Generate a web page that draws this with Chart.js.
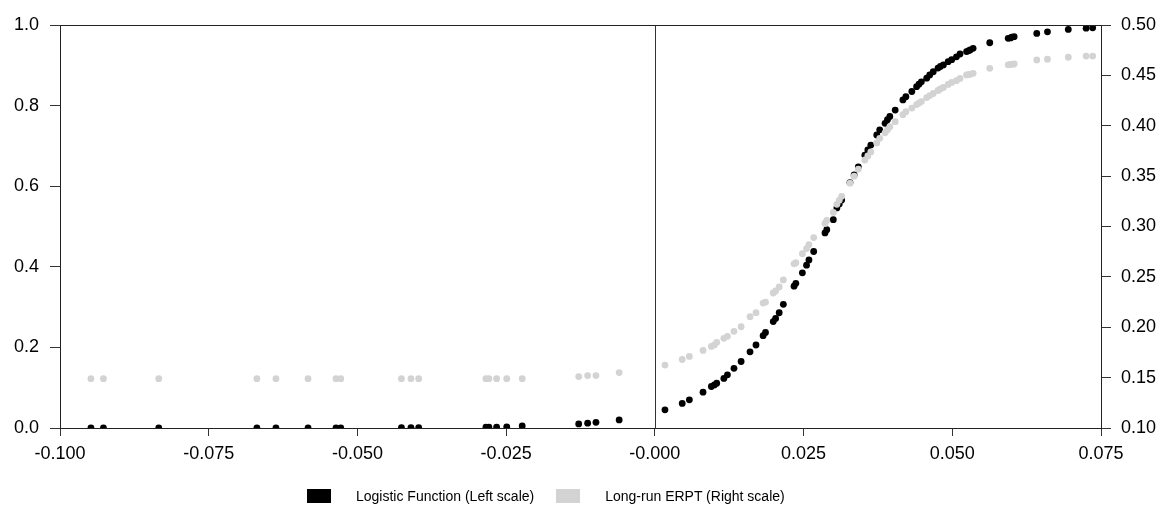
<!DOCTYPE html>
<html>
<head>
<meta charset="utf-8">
<script src="https://cdn.jsdelivr.net/npm/chart.js@4.4.0/dist/chart.umd.min.js"></script>
<style>
  html, body { margin: 0; padding: 0; background: #fff; }
  #wrap { position: relative; width: 1165px; height: 508px; }
  #legend { position: absolute; left: 307px; top: 489px; height: 14px; display: flex;
            font-family: "Liberation Sans", Arial, sans-serif; font-size: 14px; color: #000; }
  .item { display: flex; align-items: center; margin-right: 22px; }
  .box { width: 24px; height: 14px; margin-right: 25px; }
</style>
</head>
<body>
<div id="wrap">
  <canvas id="chart" width="1165" height="508"></canvas>
  <div id="legend"></div>
</div>
<script>
// exchange rate change (x), shared by both series
const xValues = [
  -0.0948, -0.0927, -0.0834, -0.0669, -0.0637, -0.0583, -0.0536, -0.0528,
  -0.0426, -0.0410, -0.0397, -0.0284, -0.0279, -0.0266, -0.0249, -0.0223,
  -0.0128, -0.0113, -0.0099, -0.0060,
  0.0017, 0.0046, 0.0058, 0.0081, 0.0095, 0.0100, 0.0104, 0.0116, 0.0122, 0.0133,
  0.0145, 0.0160, 0.0170, 0.0182, 0.0186, 0.0199, 0.0203, 0.0209, 0.0216, 0.0234,
  0.0237, 0.0248, 0.0255, 0.0259, 0.0267, 0.0286, 0.0289, 0.0300, 0.0306, 0.0310,
  0.0314, 0.0328, 0.0335, 0.0342, 0.0353, 0.0358, 0.0363, 0.0373, 0.0378, 0.0387,
  0.0391, 0.0395, 0.0404, 0.0417, 0.0422, 0.0432, 0.0440, 0.0444, 0.0448, 0.0457,
  0.0462, 0.0468, 0.0476, 0.0480, 0.0485, 0.0493, 0.0499, 0.0507, 0.0513, 0.0524,
  0.0527, 0.0530, 0.0535, 0.0563, 0.0594, 0.0598, 0.0600, 0.0604, 0.0642, 0.0660,
  0.0695, 0.0725, 0.0736
];

// Logistic function, left scale
const logisticValues = [
  0.000, 0.000, 0.000, 0.000, 0.000, 0.000, 0.000, 0.000,
  0.001, 0.001, 0.001, 0.002, 0.002, 0.002, 0.003, 0.005,
  0.010, 0.012, 0.014, 0.020,
  0.045, 0.061, 0.070, 0.089, 0.103, 0.107, 0.111, 0.123, 0.132, 0.148,
  0.165, 0.189, 0.206, 0.229, 0.237, 0.264, 0.272, 0.286, 0.307, 0.352,
  0.359, 0.385, 0.404, 0.417, 0.438, 0.484, 0.492, 0.517, 0.546, 0.556,
  0.566, 0.609, 0.628, 0.648, 0.677, 0.690, 0.702, 0.727, 0.740, 0.756,
  0.765, 0.773, 0.789, 0.814, 0.822, 0.835, 0.847, 0.853, 0.859, 0.868,
  0.876, 0.884, 0.893, 0.897, 0.901, 0.909, 0.914, 0.921, 0.928, 0.934,
  0.936, 0.938, 0.942, 0.956, 0.967, 0.968, 0.970, 0.971, 0.979, 0.983,
  0.989, 0.992, 0.993
];

// Long-run ERPT, right scale
const erptValues = [
  0.149, 0.149, 0.149, 0.149, 0.149, 0.149, 0.149, 0.149,
  0.149, 0.149, 0.149, 0.149, 0.149, 0.149, 0.149, 0.149,
  0.151, 0.152, 0.152, 0.155,
  0.1625, 0.168, 0.171, 0.177, 0.181, 0.1825, 0.185, 0.189, 0.191, 0.196,
  0.2005, 0.2105, 0.2145, 0.224, 0.225, 0.234, 0.236, 0.240, 0.247, 0.263,
  0.264, 0.273, 0.278, 0.282, 0.289, 0.303, 0.306, 0.314, 0.322, 0.326,
  0.330, 0.343, 0.350, 0.357, 0.366, 0.370, 0.374, 0.383, 0.3875, 0.393,
  0.396, 0.399, 0.404, 0.411, 0.414, 0.4175, 0.421, 0.4225, 0.424, 0.428,
  0.430, 0.432, 0.435, 0.4365, 0.438, 0.441, 0.443, 0.4447, 0.447, 0.4504,
  0.4507, 0.451, 0.452, 0.457, 0.4605, 0.461, 0.461, 0.4613, 0.4653, 0.466,
  0.468, 0.4692, 0.4692
];

const xTickLabels = ["-0.100", "-0.075", "-0.050", "-0.025", "-0.000", "0.025", "0.050", "0.075"];
const leftTickLabels = ["0.0", "0.2", "0.4", "0.6", "0.8", "1.0"];
const rightTickLabels = ["0.10", "0.15", "0.20", "0.25", "0.30", "0.35", "0.40", "0.45", "0.50"];

const seriesNames = ["Logistic Function (Left scale)", "Long-run ERPT (Right scale)"];
const seriesColors = ["#000000", "#d3d3d3"];

const tickFont = { family: "'Liberation Sans', Arial, sans-serif", size: 18 };

// vertical line at zero + frame around plot area
const framePlugin = {
  id: "frame",
  afterDatasetsDraw(chart) {
    const ctx = chart.ctx;
    const a = chart.chartArea;
    const x0 = chart.scales.x.getPixelForValue(0);
    ctx.save();
    ctx.strokeStyle = "#333";
    ctx.lineWidth = 1;
    ctx.beginPath();
    ctx.moveTo(Math.round(x0) + 0.5, a.top);
    ctx.lineTo(Math.round(x0) + 0.5, a.bottom);
    ctx.stroke();
    ctx.strokeStyle = "#222";
    ctx.strokeRect(a.left + 0.5, a.top + 0.5, a.right - a.left, a.bottom - a.top);
    ctx.restore();
  }
};

function pts(ys) {
  return xValues.map((x, i) => ({ x: x, y: ys[i] }));
}

const axisGrid = { display: true, drawOnChartArea: false, drawTicks: true, tickLength: 10, color: "#333" };

new Chart(document.getElementById("chart"), {
  type: "scatter",
  data: {
    datasets: [
      {
        label: seriesNames[0],
        data: pts(logisticValues),
        yAxisID: "yL",
        backgroundColor: seriesColors[0],
        borderColor: seriesColors[0],
        pointRadius: 3.4,
        borderWidth: 0,
        order: 1
      },
      {
        label: seriesNames[1],
        data: pts(erptValues),
        yAxisID: "yR",
        backgroundColor: seriesColors[1],
        borderColor: seriesColors[1],
        pointRadius: 3.4,
        borderWidth: 0,
        order: 0
      }
    ]
  },
  options: {
    responsive: false,
    animation: false,
    layout: { padding: { top: 25, bottom: 0, left: 0, right: 0 } },
    plugins: {
      legend: { display: false },
      tooltip: { enabled: false }
    },
    scales: {
      x: {
        type: "linear",
        min: -0.1,
        max: 0.075,
        afterBuildTicks(s) { s.ticks = xTickLabels.map(t => ({ value: parseFloat(t) })); },
        ticks: {
          color: "#000",
          font: tickFont,
          padding: 7,
          maxRotation: 0,
          callback: (v, i) => xTickLabels[i]
        },
        grid: Object.assign({}, axisGrid, { tickLength: 8 }),
        border: { display: true, color: "#222" },
        afterFit(s) { s.height = 80; }
      },
      yL: {
        type: "linear",
        position: "left",
        min: 0,
        max: 1,
        afterBuildTicks(s) { s.ticks = leftTickLabels.map(t => ({ value: parseFloat(t) })); },
        ticks: { color: "#000", font: tickFont, padding: 11, callback: (v, i) => leftTickLabels[i] },
        grid: axisGrid,
        border: { display: true, color: "#222" },
        afterFit(s) { s.width = 60; }
      },
      yR: {
        type: "linear",
        position: "right",
        min: 0.1,
        max: 0.5,
        afterBuildTicks(s) { s.ticks = rightTickLabels.map(t => ({ value: parseFloat(t) })); },
        ticks: { color: "#000", font: tickFont, padding: 10, callback: (v, i) => rightTickLabels[i] },
        grid: axisGrid,
        border: { display: true, color: "#222" },
        afterFit(s) { s.width = 64; }
      }
    }
  },
  plugins: [framePlugin]
});

// legend below the chart
const legend = document.getElementById("legend");
seriesNames.forEach((name, i) => {
  const item = document.createElement("div");
  item.className = "item";
  item.innerHTML = '<span class="box" style="background:' + seriesColors[i] + '"></span><span>' + name + '</span>';
  legend.appendChild(item);
});
</script>
</body>
</html>
